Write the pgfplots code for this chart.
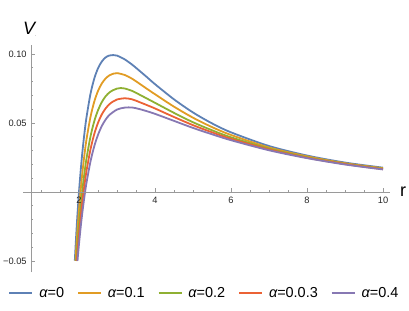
\documentclass[border=0pt]{standalone}
\usepackage{pgfplots}
\pgfplotsset{compat=1.18}
\usepackage{fontspec}
\setmainfont{Liberation Sans}
\definecolor{c1}{HTML}{5E81B5}
\definecolor{c2}{HTML}{E19C24}
\definecolor{c3}{HTML}{8FB032}
\definecolor{c4}{HTML}{EB6235}
\definecolor{c5}{HTML}{8778B3}
\definecolor{axgray}{HTML}{9A9A9A}
\begin{document}
\begin{tikzpicture}
\begin{axis}[
  x=38bp, y=1380bp,
  xmin=0.74, xmax=10.18, ymin=-0.058, ymax=0.1065,
  axis x line=middle, axis y line=left,
  axis line style={draw=axgray, line width=0.8bp, -},
  every inner x axis line/.append style={-},
  axis on top,
  clip=false,
  tick align=inside,
  major tick length=4bp, minor tick length=2.3bp,
  tick style={draw=axgray, line width=0.7bp},
  xtick={2,4,6,8,10}, xticklabels={2,4,6,8,10},
  minor xtick={1,1.5,...,10},
  ytick={-0.05,0.05,0.1}, yticklabels={−0.05,0.05,0.10},
  minor ytick={-0.05,-0.04,-0.03,-0.02,-0.01,0.01,0.02,0.03,0.04,0.06,0.07,0.08,0.09},
  ticklabel style={font=\fontsize{9.3}{11}\selectfont, text=black!85, inner sep=0pt},
  xticklabel style={anchor=north, yshift=-5bp},
  yticklabel style={anchor=east, xshift=-4.3bp},
  legend columns=5,
  legend style={at={(0.4805,-0.0924)}, anchor=center, draw=none, fill=none,
    font=\fontsize{14.5}{16}\selectfont, inner sep=0pt, nodes={inner sep=0pt},
    /tikz/every even column/.append style={column sep=13bp}},
  legend cell align=left,
  legend image code/.code={\draw[line width=1.8bp] (0bp,0bp) -- (23bp,0bp); \path (29bp,0bp);},
  every axis plot/.append style={line width=1.8bp, smooth}
]
\path (axis cs:-0.079,0.1391) rectangle (axis cs:10.684,-0.0862);
\draw[axgray, line width=0.8bp] (axis cs:0.53,0) -- (axis cs:0.74,0);

\addplot[c1] coordinates {
(1.89,-0.0498) (1.9,-0.0445) (1.93,-0.0296) (1.96,-0.0161) (2.0,0) (2.05,0.0173)
(2.1,0.0319) (2.16,0.0465) (2.2,0.0546) (2.3,0.0708) (2.4,0.0820) (2.5,0.0896)
(2.6,0.0945) (2.7,0.0975) (2.8,0.0989) (2.9,0.0992) (3.0,0.0988) (3.2,0.0961)
(3.4,0.0922) (3.6,0.0876) (3.8,0.0829) (4.0,0.0781) (4.5,0.0671) (5.0,0.0576)
(5.5,0.0497) (6.0,0.0432) (7.0,0.0333) (8.0,0.0264) (9.0,0.0213) (10,0.0176)};
\addlegendentry{{\itshape α}=0}

\addplot[c2] coordinates {
(1.908,-0.0500) (1.93,-0.0399) (1.96,-0.0276) (2.0,-0.0128) (2.05,0.0033)
(2.1,0.0169) (2.16,0.0307) (2.2,0.0385) (2.3,0.0541) (2.4,0.0653) (2.5,0.0732)
(2.6,0.0786) (2.7,0.0822) (2.8,0.0845) (2.9,0.0857) (3.0,0.0861) (3.2,0.0848)
(3.4,0.0820) (3.6,0.0783) (3.8,0.0745) (4.0,0.0708) (4.5,0.0618) (5.0,0.0538)
(5.5,0.0470) (6.0,0.0413) (7.0,0.0322) (8.0,0.0258) (9.0,0.0208) (10,0.0172)};
\addlegendentry{{\itshape α}=0.1}

\addplot[c3] coordinates {
(1.927,-0.0500) (1.96,-0.0374) (2.0,-0.0237) (2.05,-0.0087) (2.1,0.0041)
(2.16,0.0172) (2.2,0.0247) (2.3,0.0399) (2.4,0.0511) (2.5,0.0592) (2.6,0.0651)
(2.7,0.0693) (2.8,0.0721) (2.9,0.0738) (3.0,0.0749) (3.1,0.0753) (3.2,0.0750)
(3.4,0.0732) (3.6,0.0704) (3.8,0.0675) (4.0,0.0646) (4.5,0.0573) (5.0,0.0505)
(5.5,0.0447) (6.0,0.0396) (7.0,0.0314) (8.0,0.0252) (9.0,0.0204) (10,0.0168)};
\addlegendentry{{\itshape α}=0.2}

\addplot[c4] coordinates {
(1.943,-0.0500) (1.96,-0.0438) (2.0,-0.0308) (2.05,-0.0166) (2.1,-0.0043)
(2.16,0.0084) (2.2,0.0157) (2.3,0.0306) (2.4,0.0418) (2.5,0.0501) (2.6,0.0562)
(2.7,0.0605) (2.8,0.0636) (2.9,0.0656) (3.0,0.0670) (3.2,0.0679) (3.4,0.0671)
(3.6,0.0650) (3.8,0.0628) (4.0,0.0605) (4.5,0.0543) (5.0,0.0484) (5.5,0.0432)
(6.0,0.0385) (7.0,0.0308) (8.0,0.0248) (9.0,0.0202) (10,0.0165)};
\addlegendentry{{\itshape α}=0.0.3}

\addplot[c5] coordinates {
(1.96,-0.0499) (2.0,-0.0376) (2.05,-0.0240) (2.1,-0.0122) (2.16,0.0)
(2.2,0.0071) (2.3,0.0218) (2.4,0.0330) (2.5,0.0414) (2.6,0.0478) (2.7,0.0524)
(2.8,0.0558) (3.0,0.0597) (3.2,0.0611) (3.4,0.0612) (3.6,0.0600) (3.8,0.0584)
(4.0,0.0566) (4.5,0.0515) (5.0,0.0464) (5.5,0.0418) (6.0,0.0375) (7.0,0.0302)
(8.0,0.0245) (9.0,0.0199) (10,0.0163)};
\addlegendentry{{\itshape α}=0.4}

\node[anchor=base west, font=\fontsize{18}{20}\selectfont\itshape, inner sep=0pt]
  at (axis cs:0.526,0.1143) {V\textsubscript{\fontsize{4}{4}\selectfont .}};
\node[anchor=base, font=\fontsize{18}{20}\selectfont, inner sep=0pt]
  at (axis cs:10.53,-0.0036) {r};
\end{axis}
\end{tikzpicture}
\end{document}
